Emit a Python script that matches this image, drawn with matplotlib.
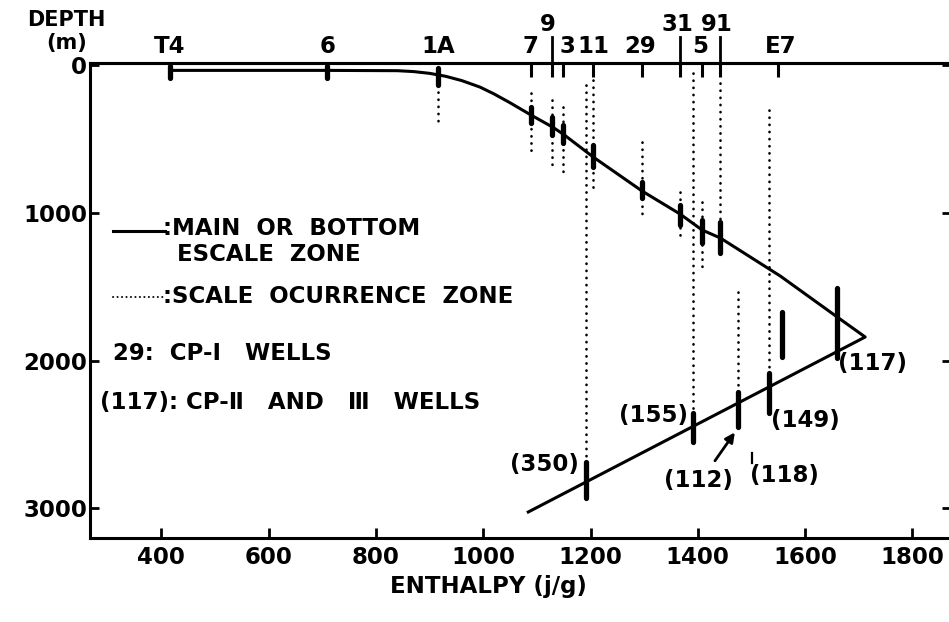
import matplotlib.pyplot as plt

plt.rcParams['font.family'] = ['DejaVu Sans']
plt.rcParams['font.weight'] = 'bold'
plt.rcParams['font.size'] = 16.5

# main / bottom scale zone curve (enthalpy j/g, depth m)
curve_x = [416, 709, 840, 870, 900, 930, 960, 994, 1020, 1050, 1089, 1129, 1149,
           1205, 1296, 1367, 1408, 1442, 1554, 1660, 1712, 1084]
curve_d = [36, 36, 38, 44, 56, 76, 105, 149, 195, 255, 338, 419, 467,
           622, 852, 1008, 1116, 1170, 1428, 1705, 1840, 3024]

# thick bars = main scale zone of each well
bar_x = [416, 709, 916, 1089, 1129, 1149, 1205, 1296, 1367, 1408, 1442, 1660,
         1192, 1391, 1475, 1533, 1557]
bar_top = [5, 5, 20, 284, 352, 406, 541, 792, 947, 1049, 1062, 1509,
           2686, 2355, 2212, 2084, 1671]
bar_bot = [85, 85, 135, 392, 474, 528, 690, 900, 1083, 1204, 1272, 1982,
           2930, 2551, 2449, 2355, 1976]

# dotted = scale occurrence zone
zone_x = [916, 1089, 1129, 1149, 1192, 1205, 1296, 1367, 1391, 1408, 1442, 1533, 1475]
zone_top = [183, 190, 237, 284, 135, 101, 521, 859, 54, 927, 122, 304, 1536]
zone_bot = [420, 609, 710, 765, 2686, 866, 1035, 1164, 2355, 1407, 1062, 2084, 2212]

# CP-I wells along the top
top_names = ['T4', '6', '1A', '7', '9', '3', '11', '29', '31', '5', '91', 'E7']
top_label_x = [416, 709, 916, 1089, 1121, 1157, 1205, 1293, 1362, 1405, 1436, 1554]
top_raised = [False, False, False, False, True, False, False, False, True, False, True, False]
tick_x = [1089, 1129, 1149, 1205, 1296, 1367, 1408, 1442, 1550]
raised_x = [1129, 1367, 1442]

# CP-II and III wells
cp2_names = ['(350)', '(155)', '(112)', '(118)', '(149)', '(117)']
cp2_x = [1115, 1318, 1401, 1562, 1600, 1725]
cp2_d = [2706, 2368, 2808, 2774, 2402, 2016]

fig = plt.figure(figsize=(9.49, 6.22), dpi=100)
ax = fig.add_axes([90/949, 1-538/622, (951-90)/949, (538-63)/622])

ax.plot(curve_x, curve_d, color='black', lw=2.2, solid_joinstyle='round')
for x, t, b in zip(zone_x, zone_top, zone_bot):
    ax.plot([x, x], [t, b], color='black', lw=1.9, linestyle=(0, (0.1, 2.6)),
            dash_capstyle='round')
for x, t, b in zip(bar_x, bar_top, bar_bot):
    ax.plot([x, x], [t, b], color='black', lw=3.8, solid_capstyle='round')

ax.set_xlim(267, 1872)
ax.set_ylim(3200, -14)
ax.set_xticks(range(400, 1801, 200))
ax.set_yticks([0, 1000, 2000, 3000])
ax.tick_params(axis='x', direction='in', length=7, width=2, pad=6)
ax.tick_params(axis='y', direction='in', length=6.5, width=2, pad=2, right=True)
for s in ax.spines.values():
    s.set_linewidth(2.2)

sec = ax.secondary_xaxis('top')
sec.set_xticks(tick_x, labels=[''] * len(tick_x))
sec.tick_params(direction='in', length=10, width=2.2)
sec.spines['top'].set_linewidth(2.2)

for name, x, r in zip(top_names, top_label_x, top_raised):
    ax.text(x, -277 if r else -129, name, ha='center', va='center', clip_on=False)
for x in raised_x:
    ax.plot([x, x], [-190, 60], color='black', lw=2, clip_on=False)

for name, x, d in zip(cp2_names, cp2_x, cp2_d):
    ax.text(x, d, name, ha='center', va='center')
ax.plot([1501, 1501], [2625, 2693], color='black', lw=1.6)
ax.annotate('', xy=(1472, 2470), xytext=(1429, 2693),
            arrowprops=dict(arrowstyle='-|>', color='black', lw=2, mutation_scale=14))

# legend written into the plot
ax.plot([310, 406], [1123, 1123], color='black', lw=2.2)
ax.text(403, 1103, ':MAIN  OR  BOTTOM', ha='left', va='center')
ax.text(430, 1279, 'ESCALE  ZONE', ha='left', va='center')
ax.plot([310, 406], [1570, 1570], color='black', lw=1.4, linestyle=(0, (0.1, 2.2)),
        dash_capstyle='round')
ax.text(403, 1563, ':SCALE  OCURRENCE  ZONE', ha='left', va='center')
ax.text(310, 1949, '29:  CP-\u2160   WELLS', ha='left', va='center')
ax.text(286, 2280, '(117): CP-\u2161   AND   \u2162   WELLS', ha='left', va='center')

fig.text(66/949, 1-20/622, 'DEPTH', ha='center', va='center', fontsize=15)
fig.text(67/949, 1-43/622, '(m)', ha='center', va='center', fontsize=15)
ax.set_xlabel('ENTHALPY (j/g)', fontweight='bold')
ax.xaxis.set_label_coords(0.463, -0.078)

fig.savefig('out.png', dpi=100)
